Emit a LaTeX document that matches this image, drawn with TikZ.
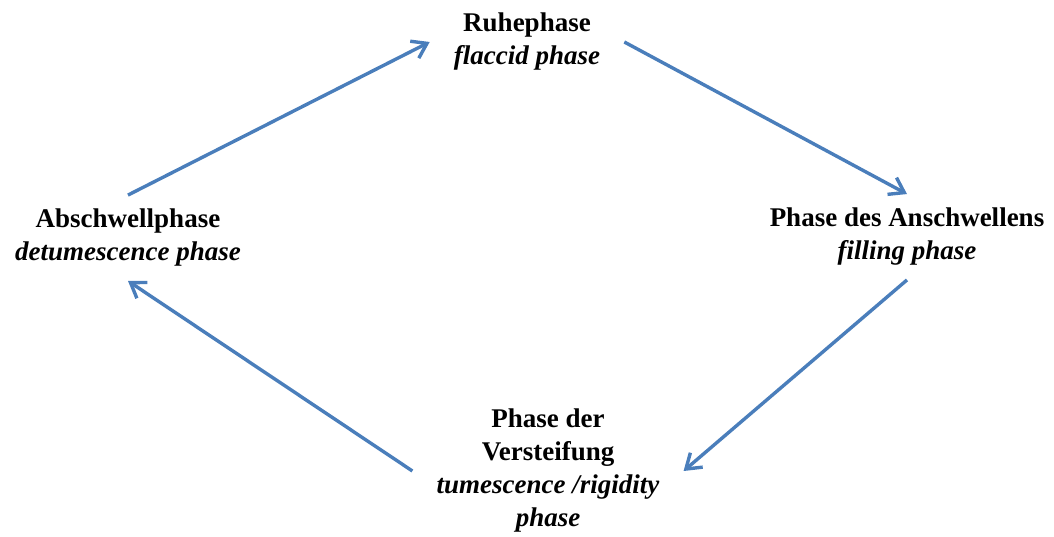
\documentclass[tikz,border=0pt]{standalone}
\usepackage{fontspec}
\setmainfont{Liberation Serif}
\usepackage{tikz}
\usetikzlibrary{arrows.meta}
\definecolor{cycleblue}{RGB}{74,126,187}

\begin{document}
\begin{tikzpicture}[x=1pt, y=1pt,
    phase/.style={align=center, font=\fontsize{27}{33}\selectfont\bfseries, inner xsep=24pt, inner ysep=14pt},
    cyc/.style={draw=cycleblue, line width=3.4pt, -{Straight Barb[length=14pt,width=19pt]}}]
            \useasboundingbox (0,0) rectangle (1054,537);
            % Phases of the cycle
            \node[phase] (ruhe) at (527,495) {Ruhephase\\\textit{flaccid phase}};
            \node[phase] (fill) at (907,300) {Phase des Anschwellens\\\textit{filling phase}};
            \node[phase] (steif) at (548,66) {Phase der\\Versteifung\\\textit{tumescence /rigidity}\\\textit{phase}};
            \node[phase] (abs) at (128,299) {Abschwellphase\\\textit{detumescence phase}};
            
            \draw[cyc] (abs.north) -- (ruhe.west);
            \draw[cyc] (ruhe.east) -- (fill.north);
            \draw[cyc] (fill.south) -- (steif.east);
            \draw[cyc] (steif.west) -- (abs.south);
        \end{tikzpicture}
\end{document}
